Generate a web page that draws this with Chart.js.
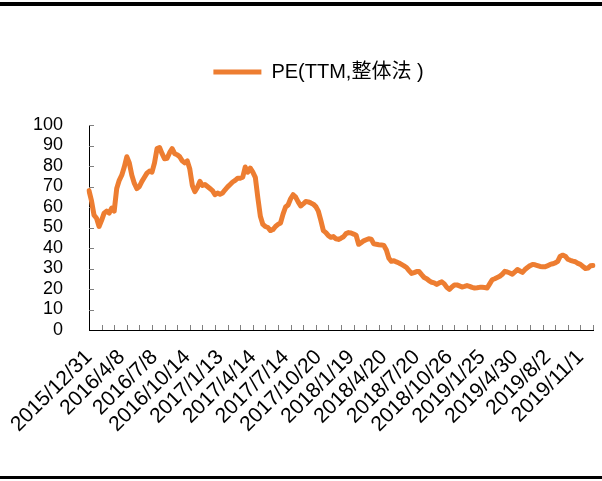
<!DOCTYPE html>
<html lang="zh">
<head>
<meta charset="UTF-8">
<title>PE(TTM,整体法 )</title>
<script src="https://cdn.jsdelivr.net/npm/chart.js"></script>
<style>
  body { margin: 0; background: #fff; }
  #wrap { position: relative; width: 602px; height: 481px; }
  .rule { position: absolute; left: 0; width: 602px; background: #000; }
  #top { top: 2px; height: 4px; }
  #bottom { top: 476px; height: 3px; }
  canvas { position: absolute; left: 0; top: 0; }
</style>
</head>
<body>
<div id="wrap">
  <div class="rule" id="top"></div>
  <div class="rule" id="bottom"></div>
  <canvas id="peChart" width="602" height="481"></canvas>
</div>
<script>
// weekly PE(TTM)
const peValues = [
  68, 63, 56, 54.5, 50.5, 53.5, 57, 58, 57, 59.5,
  58, 69, 73, 75.5, 79.5, 84.5, 81.5, 75.5, 71.5, 69,
  70, 72.5, 74.5, 76.5, 77.5, 77, 81.5, 88.5, 89, 86,
  83.5, 83.8, 86.5, 88.5, 86, 85.5, 84.5, 82.5, 81.5, 82.5,
  78.5, 70.5, 67.5, 69.5, 72.5, 70.5, 71, 70, 69, 68,
  66, 66.8, 66.2, 66.8, 68.4, 69.8, 71, 72.2, 73, 74,
  74, 74.5, 79.5, 77, 79, 77, 74.5, 64.5, 55.5, 51.5,
  50.5, 50, 48.5, 49, 50.5, 51.5, 52.2, 56.5, 60, 61,
  64, 66, 64.8, 62.5, 60.5, 61.5, 62.7, 62.5, 62, 61.4,
  60.2, 58, 53.5, 48.5, 47.5, 46, 45.2, 45.6, 44.5, 44.2,
  44.8, 45.5, 47, 47.5, 47.3, 46.8, 46.2, 41.8, 42.6, 43.5,
  44, 44.5, 44.3, 42, 41.8, 41.6, 41.5, 41.2, 39, 35,
  33.5, 33.8, 33.2, 32.7, 32, 31.3, 30.5, 29, 27.6, 28,
  28.5, 28.5, 27, 25.6, 25, 24, 23.3, 23, 22.2, 23,
  23.5, 22.5, 20.8, 19.8, 21, 21.9, 22, 21.5, 21, 21.3,
  21.7, 21.3, 20.8, 20.5, 20.6, 20.8, 20.8, 20.7, 20.5, 22.5,
  24.5, 25, 25.6, 26.2, 27.2, 28.6, 28.3, 27.8, 27.2, 28.3,
  29.5, 28.8, 28.1, 29.5, 30.5, 31.4, 32, 31.8, 31.4, 31,
  30.9, 30.8, 31.4, 32, 32.3, 32.7, 33.5, 36, 36.5, 36,
  34.5, 34, 33.6, 33.3, 32.5, 32, 31, 30, 30.2, 31.3,
  31.5
];

// a date label every 13 weeks
const tickLabels = [
  '2015/12/31', '2016/4/8', '2016/7/8', '2016/10/14', '2017/1/13', '2017/4/14',
  '2017/7/14', '2017/10/20', '2018/1/19', '2018/4/20', '2018/7/20', '2018/10/26',
  '2019/1/25', '2019/4/30', '2019/8/2', '2019/11/1'
];
const labelEvery = 13;
const tickEvery = 5;
const yTicks = [0, 10, 20, 30, 40, 50, 60, 70, 80, 90, 100];

const labels = peValues.map((v, i) => i % labelEvery === 0 ? (tickLabels[i / labelEvery] || '') : '');

// small tick marks pointing into the plot, like the original
const innerTicks = {
    id: 'innerTicks',
    beforeDatasetsDraw(chart) {
        const {ctx, chartArea, scales: {x, y}} = chart;
        ctx.save();
        ctx.strokeStyle = '#808080';
        ctx.lineWidth = 1;
        ctx.beginPath();
        for (let i = tickEvery; i < labels.length; i += tickEvery) {
            const px = Math.round(x.getPixelForValue(i)) + 0.5;
            ctx.moveTo(px, chartArea.bottom);
            ctx.lineTo(px, chartArea.bottom - 5);
        }
        yTicks.slice(1).forEach(v => {
            const py = Math.round(y.getPixelForValue(v)) + 0.5;
            ctx.moveTo(chartArea.left, py);
            ctx.lineTo(chartArea.left + 5, py);
        });
        ctx.stroke();
        ctx.restore();
    }
};

// the legend sits a bit right of the page centre in the original
const legendShift = {
    id: 'legendShift',
    afterLayout(chart) {
        chart.legend.left += 22;
        chart.legend.right += 22;
    }
};

Chart.defaults.font.family = '"Liberation Sans", Arial, "Noto Sans CJK SC", sans-serif';
Chart.defaults.color = '#000';

const ctx = document.getElementById('peChart').getContext('2d');
new Chart(ctx, {
    type: 'line',
    data: {
        labels: labels,
        datasets: [{
            label: 'PE(TTM,整体法 )',
            data: peValues,
            borderColor: '#ED7D31',
            backgroundColor: '#ED7D31',
            borderWidth: 5,
            borderCapStyle: 'round',
            borderJoinStyle: 'round',
            pointRadius: 0,
            tension: 0
        }]
    },
    options: {
        responsive: false,
        animation: false,
        layout: { padding: { top: 52, right: 9, bottom: 0, left: 0 } },
        plugins: {
            legend: {
                position: 'top',
                labels: {
                    usePointStyle: true,
                    pointStyle: 'line',
                    pointStyleWidth: 48,
                    padding: 10,
                    color: '#000',
                    font: { size: 20 }
                }
            },
            // empty title used as a spacer between legend and plot
            title: { display: true, text: '', weight: 500, padding: { top: 0, bottom: 21 }, font: { size: 10 } },
            tooltip: { enabled: false }
        },
        scales: {
            x: {
                grid: { drawOnChartArea: false, drawTicks: false, color: 'rgba(0,0,0,0)' },
                border: { display: true, color: '#000', width: 1 },
                ticks: { autoSkip: false, minRotation: 45, maxRotation: 45, padding: 15, font: { size: 21 } },
                afterFit: s => { s.height = 151; s.paddingLeft = 0; s.paddingRight = 0; }
            },
            y: {
                min: 0,
                max: 100,
                afterBuildTicks: s => { s.ticks = yTicks.map(v => ({ value: v })); },
                grid: { drawOnChartArea: false, drawTicks: false, color: 'rgba(0,0,0,0)' },
                border: { display: true, color: '#000', width: 1 },
                ticks: { autoSkip: false, padding: 26, font: { size: 18 } },
                afterFit: s => { s.width = 89; s.paddingTop = 0; s.paddingBottom = 0; }
            }
        }
    },
    plugins: [innerTicks, legendShift]
});
</script>
</body>
</html>
